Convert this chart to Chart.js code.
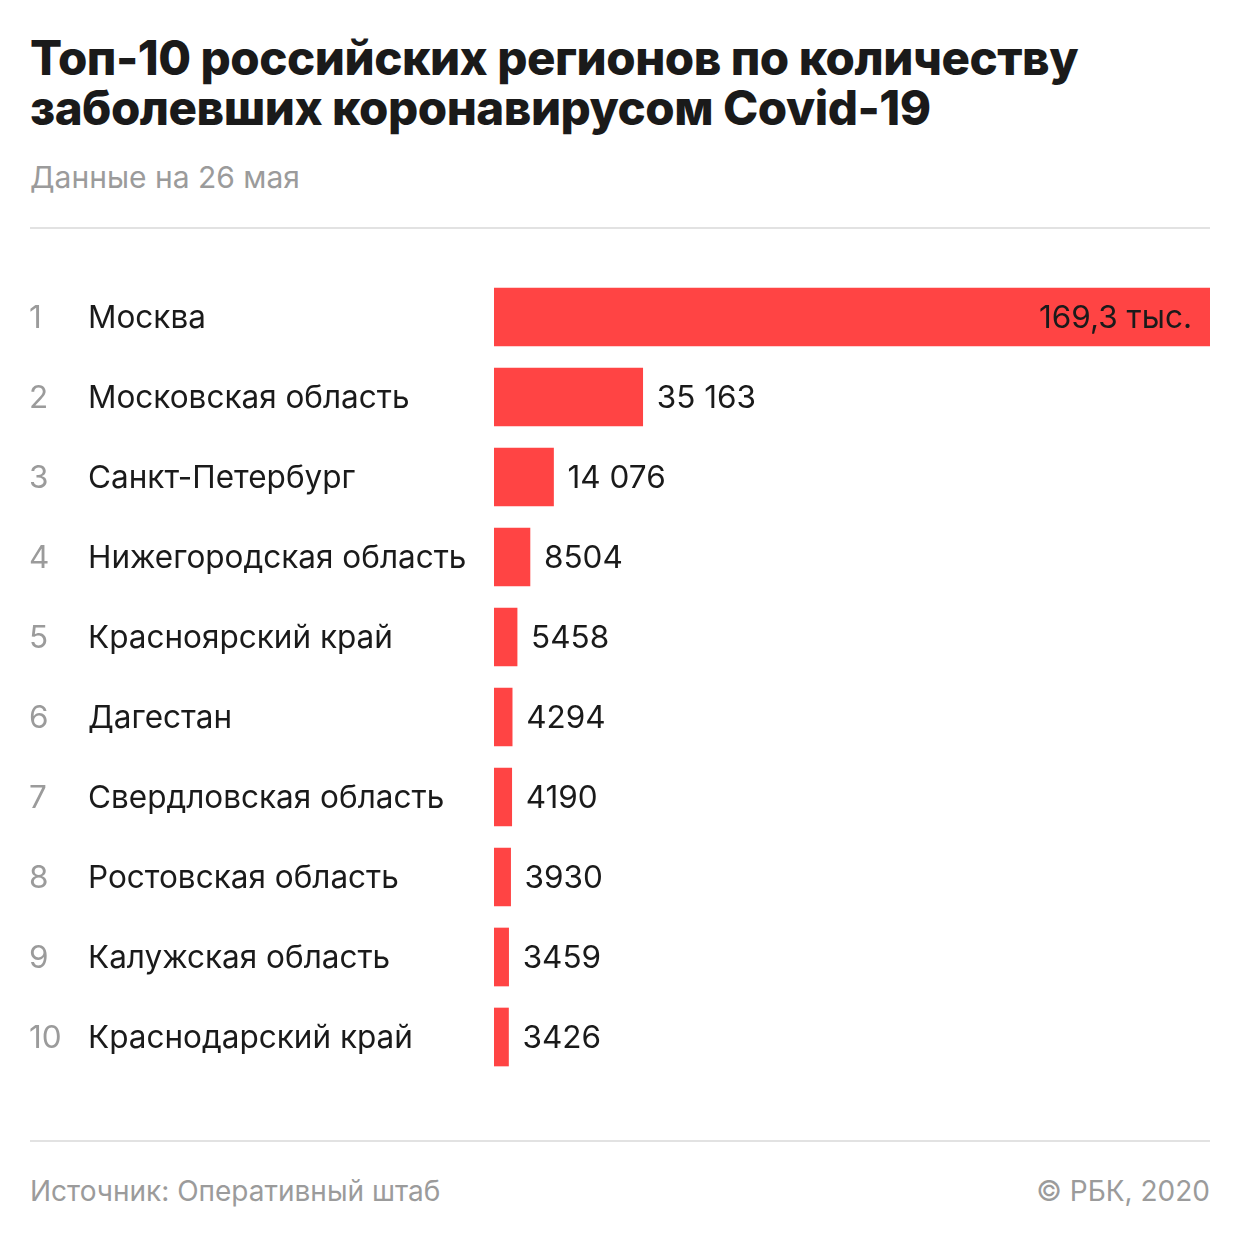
<!DOCTYPE html>
<html lang="ru">
<head>
<meta charset="UTF-8">
<title>Топ-10 регионов</title>
<script src="https://cdn.jsdelivr.net/npm/chart.js"></script>
<style>
  body { margin: 0; width: 1240px; height: 1240px; background: #fff; font-family: Inter, Roboto, sans-serif; position: relative; }
  h1 { position: absolute; left: 30px; top: 33px; margin: 0; font-size: 47.5px; line-height: 50px; font-weight: 800; color: #1a1a1a; letter-spacing: -0.5px; }
  .sub { position: absolute; left: 30px; top: 159px; font-size: 30px; color: #9b9b9b; }
  .rule { position: absolute; left: 30px; width: 1180px; height: 2px; background: #e2e2e2; }
  .foot { position: absolute; top: 1174px; font-size: 28px; color: #9b9b9b; }
  .wrap { position: absolute; left: 0; top: 277px; width: 1240px; height: 800px; }
</style>
</head>
<body>
  <h1>Топ-10 российских регионов по количеству<br>заболевших коронавирусом Covid-19</h1>
  <div class="sub">Данные на 26 мая</div>
  <div class="rule" style="top:227px"></div>
  <div class="wrap"><canvas id="chart"></canvas></div>
  <div class="rule" style="top:1140px"></div>
  <div class="foot" style="left:30px">Источник: Оперативный штаб</div>
  <div class="foot" style="right:30px">© РБК, 2020</div>

<script>
const ranks = ['1', '2', '3', '4', '5', '6', '7', '8', '9', '10'];
const regions = ['Москва', 'Московская область', 'Санкт-Петербург', 'Нижегородская область',
  'Красноярский край', 'Дагестан', 'Свердловская область', 'Ростовская область',
  'Калужская область', 'Краснодарский край'];
const cases = [169303, 35163, 14076, 8504, 5458, 4294, 4190, 3930, 3459, 3426];
const valueLabels = ['169,3 тыс.', '35 163', '14 076', '8504', '5458', '4294', '4190', '3930', '3459', '3426'];

// rank numbers, region names and value labels
const labelsPlugin = {
  id: 'rowLabels',
  afterDatasetsDraw(chart) {
    const ctx = chart.ctx;
    const meta = chart.getDatasetMeta(0);
    const y = chart.scales.y;
    ctx.save();
    ctx.textBaseline = 'middle';
    ctx.font = '31.5px Inter, Roboto, sans-serif';
    regions.forEach((name, i) => {
      const py = y.getPixelForValue(i) + 2;
      ctx.textAlign = 'left';
      ctx.fillStyle = '#9b9b9b';
      ctx.fillText(ranks[i], 29, py);
      ctx.fillStyle = '#1a1a1a';
      ctx.fillText(name, 88, py);
      const bar = meta.data[i];
      if (i === 0) {
        ctx.textAlign = 'right';
        ctx.fillText(valueLabels[i], bar.x - 18, py);
      } else {
        ctx.fillText(valueLabels[i], bar.x + 14, py);
      }
    });
    ctx.restore();
  }
};

new Chart(document.getElementById('chart'), {
  type: 'bar',
  data: {
    labels: regions,
    datasets: [{
      data: cases,
      backgroundColor: '#ff4444',
      barThickness: 58,
      borderWidth: 0
    }]
  },
  options: {
    indexAxis: 'y',
    responsive: true,
    maintainAspectRatio: false,
    animation: false,
    layout: { padding: { left: 494, right: 30, top: 0, bottom: 0 } },
    plugins: { legend: { display: false }, tooltip: { enabled: false } },
    scales: {
      x: { display: false, min: 0, max: 169303 },
      y: { display: false }
    }
  },
  plugins: [labelsPlugin]
});
</script>
</body>
</html>
